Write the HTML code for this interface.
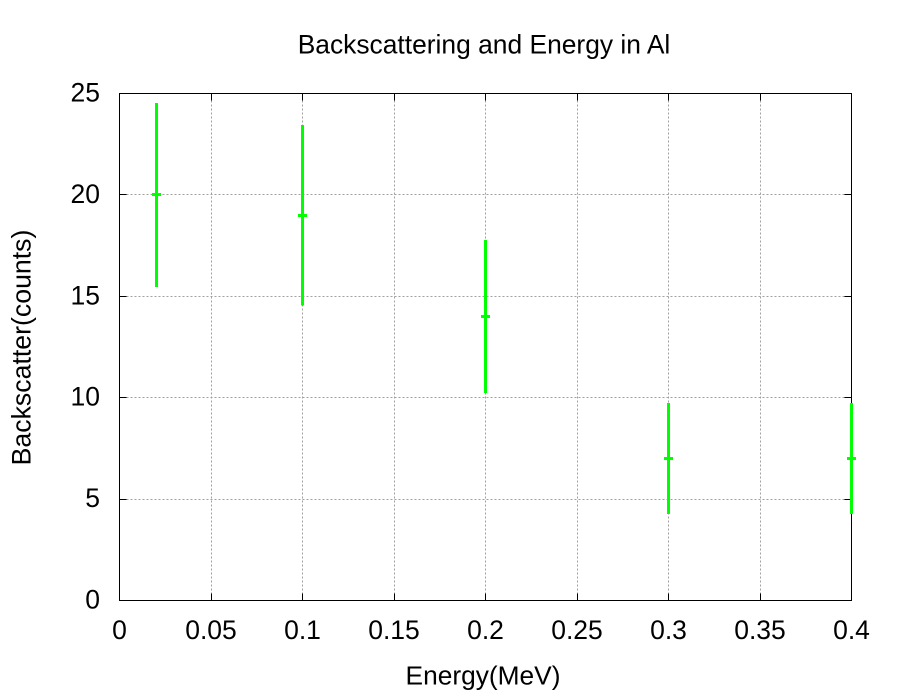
<!DOCTYPE html>
<html>
<head>
<meta charset="utf-8">
<title>Backscattering and Energy in Al</title>
<style>
html,body{margin:0;padding:0;background:#fff;width:900px;height:700px;overflow:hidden}
svg{display:block}
text{font-family:"Liberation Sans",Arial,sans-serif;font-size:26.5px;fill:#000}
</style>
</head>
<body>
<svg id="chart" xmlns="http://www.w3.org/2000/svg" width="900" height="700" viewBox="0 0 900 700">
<rect x="0" y="0" width="900" height="700" fill="#fff"/>
<text x="484" y="53.5" text-anchor="middle" style="font-size:26.4px">Backscattering and Energy in Al</text>
<text x="483" y="684.5" text-anchor="middle" style="font-size:26.3px">Energy(MeV)</text>
<text transform="translate(30.5,347.5) rotate(-90)" text-anchor="middle" style="font-size:26.7px">Backscatter(counts)</text>
<g id="grid"></g>
<g id="ticks"></g>
<g id="labels"></g>
<rect x="119.5" y="93.5" width="732" height="507" fill="none" stroke="#000" stroke-width="1"/>
<g id="series"></g>
</svg>
<script>
const xTicks = [0, 0.05, 0.1, 0.15, 0.2, 0.25, 0.3, 0.35, 0.4];
const yTicks = [0, 5, 10, 15, 20, 25];
const xTickLabels = ['0', '0.05', '0.1', '0.15', '0.2', '0.25', '0.3', '0.35', '0.4'];
const yTickLabels = ['0', '5', '10', '15', '20', '25'];
const energies = [0.02, 0.1, 0.2, 0.3, 0.4];
const counts = [20, 19, 14, 7, 7];
const errors = [4.53, 4.45, 3.78, 2.73, 2.73];

const NS = 'http://www.w3.org/2000/svg';
const plotLeft = 119.5, plotRight = 851.5, plotTop = 93.5, plotBottom = 600.5;
const xMin = 0, xMax = 0.4, yMin = 0, yMax = 25;
function xScale(v) { return plotLeft + (v - xMin) / (xMax - xMin) * (plotRight - plotLeft); }
function yScale(v) { return plotBottom - (v - yMin) / (yMax - yMin) * (plotBottom - plotTop); }
function snap(v) { return Math.round(Math.round((v - 0.5) * 1000) / 1000) + 0.5; }

function line(parent, x1, y1, x2, y2, stroke, width, dash) {
  const el = document.createElementNS(NS, 'line');
  el.setAttribute('x1', x1);
  el.setAttribute('y1', y1);
  el.setAttribute('x2', x2);
  el.setAttribute('y2', y2);
  el.setAttribute('stroke', stroke);
  el.setAttribute('stroke-width', width);
  if (dash) el.setAttribute('stroke-dasharray', dash);
  parent.appendChild(el);
  return el;
}
function label(parent, x, y, str, anchor) {
  const el = document.createElementNS(NS, 'text');
  el.setAttribute('x', x);
  el.setAttribute('y', y);
  el.setAttribute('text-anchor', anchor);
  el.textContent = str;
  parent.appendChild(el);
  return el;
}

const gridG = document.getElementById('grid');
const ticksG = document.getElementById('ticks');
const labelsG = document.getElementById('labels');
const seriesG = document.getElementById('series');
const tickLen = 7, gridColor = '#a0a0a0', gridDash = '2 2';

xTicks.forEach(function (t, i) {
  const x = snap(xScale(t));
  if (i > 0 && i < xTicks.length - 1) {
    const g = line(gridG, x, plotTop + tickLen, x, plotBottom - tickLen, gridColor, 1, gridDash);
    
    
    const a = line(ticksG, x, plotBottom, x, plotBottom - tickLen, '#000', 1);
    
    
    const b = line(ticksG, x, plotTop, x, plotTop + tickLen, '#000', 1);
    
    
  }
  const l = label(labelsG, xScale(t), 639, xTickLabels[i], 'middle');
  
  
});

yTicks.forEach(function (t, i) {
  const y = snap(yScale(t));
  if (i > 0 && i < yTicks.length - 1) {
    const g = line(gridG, plotLeft + tickLen, y, plotRight - tickLen, y, gridColor, 1, gridDash);
    
    
    const a = line(ticksG, plotLeft, y, plotLeft + tickLen, y, '#000', 1);
    
    
    const b = line(ticksG, plotRight, y, plotRight - tickLen, y, '#000', 1);
    
    
  }
  const l = label(labelsG, 100, yScale(t) + 8, yTickLabels[i], 'end');
  
  
});

energies.forEach(function (e, i) {
  const x = snap(xScale(e));
  const y = snap(yScale(counts[i]));
  const v = line(seriesG, x, yScale(counts[i] + errors[i]), x, yScale(counts[i] - errors[i]), '#00ff00', 3);
  
  
  v.setAttribute('shape-rendering', 'crispEdges');
  const h = line(seriesG, x - 4.5, y, x + 4.5, y, '#00ff00', 3);
  
  
  h.setAttribute('shape-rendering', 'crispEdges');
});
</script>
</body>
</html>
